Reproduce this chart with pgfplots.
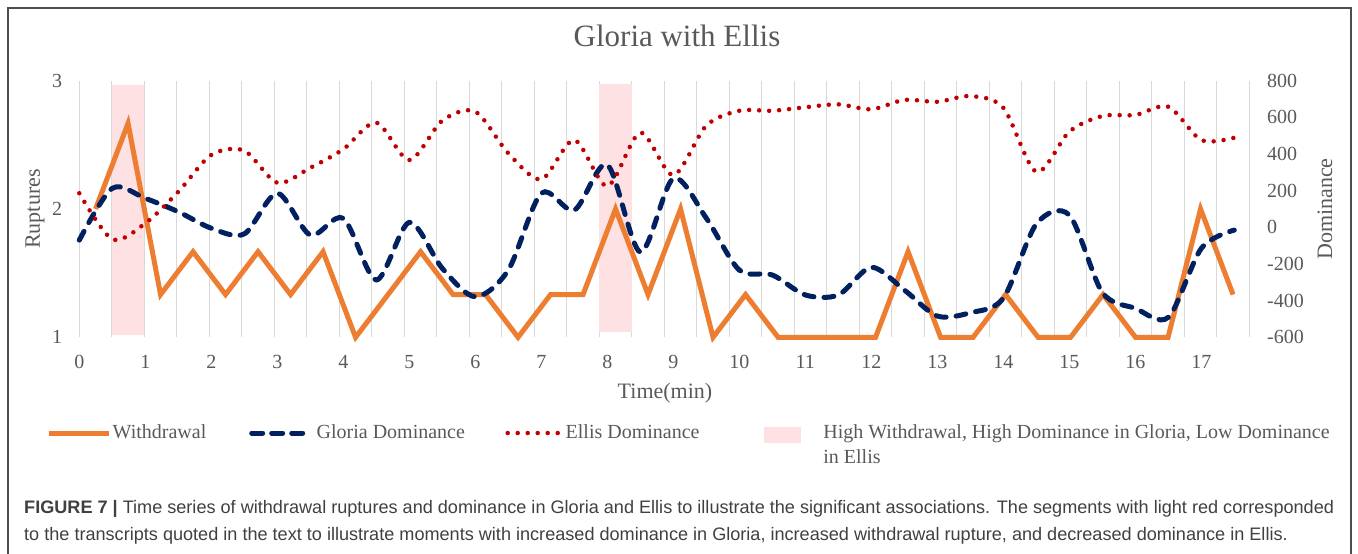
\documentclass[border=0pt]{standalone}
\usepackage{fontspec}
\setmainfont{Liberation Serif}
\newfontfamily\capfont{Liberation Sans}
\usepackage{pgfplots}
\pgfplotsset{compat=1.18}
\definecolor{orangec}{HTML}{ED7D31}
\definecolor{navyc}{HTML}{002060}
\definecolor{redc}{HTML}{C00000}
\definecolor{pinkc}{HTML}{FDE1E3}
\definecolor{gridc}{HTML}{D9D9D9}
\definecolor{tgray}{HTML}{595959}
\definecolor{capgray}{HTML}{404040}
\definecolor{framec}{HTML}{4D4D4D}
\pgfplotsset{
  legorange/.style={legend image code/.code={\path[draw=none,fill=none] (0pt,0pt) -- (64pt,0pt); \draw[orangec, line width=5pt] (0pt,0pt) -- (60pt,0pt);}},
  legblue/.style={legend image code/.code={\path[draw=none,fill=none] (0pt,0pt) -- (109pt,0pt); \draw[navyc, line width=5pt, dash pattern=on 11pt off 9pt, line cap=round] (44pt,0pt) -- (99pt,0pt);}},
  legred/.style={legend image code/.code={\path[draw=none,fill=none] (0pt,0pt) -- (100pt,0pt); \draw[redc, line width=4.5pt, dash pattern=on 0pt off 10pt, line cap=round] (42pt,0pt) -- (93pt,0pt);}},
  legpink/.style={legend image code/.code={\path[draw=none,fill=none] (0pt,0pt) -- (110.7pt,0pt); \fill[pinkc, draw=none] (51pt,-9.5pt) rectangle (88.7pt,6.5pt);}},
}
\begin{document}
\begin{tikzpicture}
\path[use as bounding box] (0pt,0pt) rectangle (1358pt,554pt);
\draw[framec, line width=1.5pt] (8pt,0pt) -- (8pt,546pt) -- (1351pt,546pt) -- (1351pt,0pt);

\begin{axis}[
  at={(79.3pt,216.7pt)}, anchor=south west,
  scale only axis, width=1170pt, height=256.6pt,
  xmin=0, xmax=17.72727, ymin=1, ymax=3,
  clip=false,
  axis line style={draw=none},
  major tick length=0pt,
  xtick={0,1,...,17},
  ytick={1,2,3},
  extra x ticks={0,0.49242,0.98485,1.47727,1.96970,2.46212,2.95455,3.44697,3.93939,4.43182,4.92424,5.41667,5.90909,6.40152,6.89394,7.38636,7.87879,8.37121,8.86364,9.35606,9.84848,10.34091,10.83333,11.32576,11.81818,12.31061,12.80303,13.29545,13.78788,14.28030,14.77273,15.26515,15.75758,16.25000,16.74242,17.23485,17.72727},
  extra x tick labels={},
  major grid style={gridc, line width=1pt},
  extra x tick style={grid=major},
  /pgf/number format/assume math mode=true,
  tick label style={font=\fontsize{20pt}{24pt}\selectfont, text=tgray, inner sep=0pt},
  x tick label style={yshift=-17.7pt},
  y tick label style={xshift=-17pt},
  xlabel={Time(min)}, ylabel={Ruptures}, title={Gloria with Ellis},
  every axis x label/.style={at={(axis description cs:0.5006,-0.2171)}, anchor=center, font=\fontsize{22pt}{26pt}\selectfont, text=tgray},
  every axis y label/.style={at={(axis description cs:-0.03786,0.5)}, rotate=90, anchor=center, font=\fontsize{22pt}{26pt}\selectfont, text=tgray},
  every axis title/.style={at={(axis description cs:0.51085,1.1325)}, anchor=base, font=\fontsize{31pt}{36pt}\selectfont, text=tgray},
]
\addplot[fill=pinkc, draw=none, forget plot] coordinates {(0.49242,1.02) (0.98485,1.02) (0.98485,2.97) (0.49242,2.97)};
\addplot[fill=pinkc, draw=none, forget plot] coordinates {(7.87879,1.04) (8.37121,1.04) (8.37121,2.975) (7.87879,2.975)};
\addplot[orangec, line width=5pt, line join=miter, mark=none] coordinates {
(0.24621,2) (0.73864,2.667) (1.23106,1.333) (1.72348,1.667) (2.21591,1.333) (2.70833,1.667)
(3.20076,1.333) (3.69318,1.667) (4.18561,1) (4.67803,1.333) (5.17045,1.667) (5.66288,1.333)
(6.15530,1.333) (6.64773,1) (7.14015,1.333) (7.63258,1.333) (8.12500,2) (8.61742,1.333)
(9.10985,2) (9.60227,1) (10.09470,1.333) (10.58712,1) (11.07955,1) (11.57197,1)
(12.06439,1) (12.55682,1.667) (13.04924,1) (13.54167,1) (14.03409,1.333) (14.52652,1)
(15.01894,1) (15.51136,1.333) (16.00379,1) (16.49621,1) (16.98864,2) (17.48106,1.333)};
\end{axis}

\begin{axis}[
  at={(79.3pt,216.7pt)}, anchor=south west,
  scale only axis, width=1170pt, height=256.6pt,
  xmin=0, xmax=17.72727, ymin=-600, ymax=800,
  clip=false,
  axis line style={draw=none},
  major tick length=0pt,
  hide x axis,
  ytick={-600,-400,-200,0,200,400,600,800},
  yticklabel pos=right,
  /pgf/number format/assume math mode=true,
  tick label style={font=\fontsize{20pt}{24pt}\selectfont, text=tgray, inner sep=0pt},
  y tick label style={xshift=17.7pt},
  ylabel={Dominance},
  every axis y label/.style={at={(axis description cs:1.0647,0.5)}, rotate=90, anchor=center, font=\fontsize{22pt}{26pt}\selectfont, text=tgray},
  legend columns=4,
  legend style={at={(axis description cs:-0.02846,-0.37412)}, anchor=west, draw=none, fill=none, inner sep=0pt, column sep=0pt, row sep=0pt,
    nodes={inner sep=0pt, text height=14pt, text depth=4pt, font=\fontsize{20pt}{25pt}\selectfont, text=tgray}},
]
\addlegendimage{legorange}
\addlegendentry{\makebox[95pt][l]{Withdrawal}}
\addplot[navyc, line width=5pt, dash pattern=on 10pt off 10pt, line cap=round, smooth, tension=0.5, mark=none, legblue] coordinates {
(0,-70) (0.5,213) (1,158) (1.5,85) (2,-5) (2.5,-36) (3,186) (3.5,-42) (4,49) (4.5,-287) (5,27) (5.5,-224)
(6,-379) (6.5,-233) (7,186) (7.5,94) (8,342) (8.5,-135) (9,267) (9.5,50) (10,-233) (10.5,-260) (11,-369) (11.5,-369)
(12,-218) (12.5,-342) (13,-484) (13.5,-466) (14,-387) (14.5,18) (15,67) (15.5,-355) (16,-442) (16.5,-491) (17,-115) (17.5,-15)};
\addlegendentry{\makebox[149pt][l]{Gloria Dominance}}
\addplot[redc, line width=4.5pt, dash pattern=on 0pt off 10pt, line cap=round, smooth, tension=0.5, mark=none, legred] coordinates {
(0,186) (0.5,-65) (1,22) (1.5,194) (2,395) (2.5,418) (3,243) (3.5,325) (4,426) (4.5,571) (5,367) (5.5,582)
(6,631) (6.5,404) (7,262) (7.5,476) (8,225) (8.5,516) (9,285) (9.5,555) (10,636) (10.5,636) (11,655) (11.5,671)
(12,644) (12.5,695) (13,685) (13.5,716) (14,652) (14.5,303) (15,522) (15.5,607) (16,613) (16.5,658) (17,476) (17.5,489)};
\addlegendentry{\makebox[147pt][l]{Ellis Dominance}}
\addlegendimage{legpink}
\addlegendentry{\parbox[t]{530pt}{High Withdrawal, High Dominance in Gloria, Low Dominance\par in Ellis}}
\end{axis}

\node[anchor=base west, inner sep=0pt, text=capgray, font=\capfont\fontsize{18.1pt}{20pt}\selectfont] at (24pt,40pt)
  {\textbf{FIGURE 7 |} Time series of withdrawal ruptures and dominance in Gloria and Ellis to illustrate the significant associations. The segments with light red corresponded};
\node[anchor=base west, inner sep=0pt, text=capgray, font=\capfont\fontsize{18.1pt}{20pt}\selectfont] at (24pt,13pt)
  {to the transcripts quoted in the text to illustrate moments with increased dominance in Gloria, increased withdrawal rupture, and decreased dominance in Ellis.};
\end{tikzpicture}
\end{document}
